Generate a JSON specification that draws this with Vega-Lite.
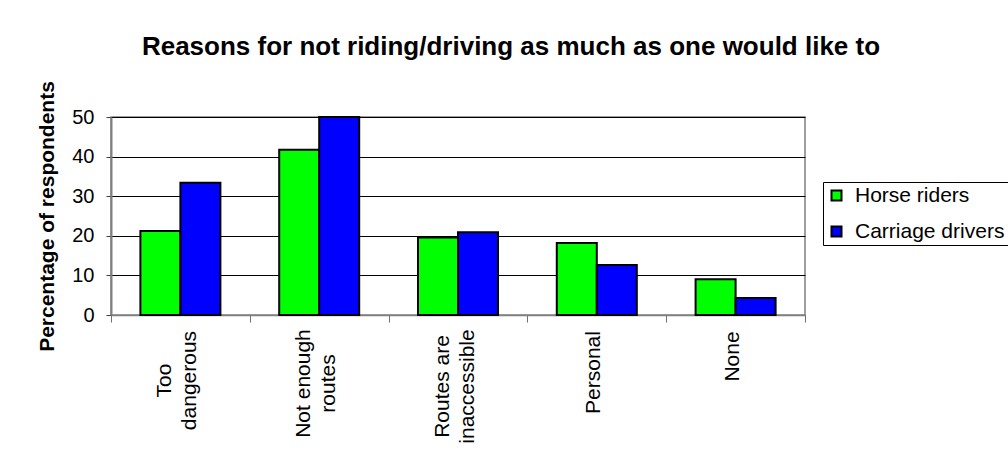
{
  "$schema": "https://vega.github.io/schema/vega-lite/v6.json",
  "width": 694,
  "height": 198,
  "autosize": {"type": "none"},
  "padding": {"left": 111, "top": 117, "right": 203, "bottom": 147},
  "background": "white",
  "title": {
    "text": "Reasons for not riding/driving as much as one would like to",
    "font": "Liberation Sans",
    "fontSize": 26,
    "fontWeight": "bold",
    "color": "black",
    "anchor": "middle",
    "dx": 53,
    "offset": 21
  },
  "data": {
    "values": [
      {"reason": "Too dangerous", "group": "Horse riders", "value": 21.2},
      {"reason": "Too dangerous", "group": "Carriage drivers", "value": 33.4},
      {"reason": "Not enough routes", "group": "Horse riders", "value": 41.7},
      {"reason": "Not enough routes", "group": "Carriage drivers", "value": 50},
      {"reason": "Routes are inaccessible", "group": "Horse riders", "value": 19.6},
      {"reason": "Routes are inaccessible", "group": "Carriage drivers", "value": 20.9},
      {"reason": "Personal", "group": "Horse riders", "value": 18.2},
      {"reason": "Personal", "group": "Carriage drivers", "value": 12.6},
      {"reason": "None", "group": "Horse riders", "value": 9.0},
      {"reason": "None", "group": "Carriage drivers", "value": 4.3}
    ]
  },
  "mark": {"type": "bar", "stroke": "black", "strokeWidth": 2},
  "encoding": {
    "x": {
      "field": "reason",
      "type": "nominal",
      "sort": ["Too dangerous", "Not enough routes", "Routes are inaccessible", "Personal", "None"],
      "scale": {"paddingInner": 0, "paddingOuter": 0},
      "axis": {
        "title": null,
        "labelAngle": -90,
        "labelAlign": "center",
        "labelBaseline": "middle",
        "labelExpr": "datum.label == 'Too dangerous' ? ['Too', 'dangerous'] : datum.label == 'Not enough routes' ? ['Not enough', 'routes'] : datum.label == 'Routes are inaccessible' ? ['Routes are', 'inaccessible'] : datum.label",
        "labelOffset": {
          "condition": {"test": "datum.value == 'Personal' || datum.value == 'None'", "value": -3},
          "value": -15.5
        },
        "labelPadding": {
          "condition": [
            {"test": "datum.value == 'Too dangerous'", "value": 58},
            {"test": "datum.value == 'Not enough routes'", "value": 61},
            {"test": "datum.value == 'Routes are inaccessible'", "value": 64},
            {"test": "datum.value == 'Personal'", "value": 50}
          ],
          "value": 34
        },
        "labelFont": "Liberation Sans",
        "labelFontSize": 21,
        "labelColor": "black",
        "labelLineHeight": 25,
        "labelOverlap": false,
        "labelBound": false,
        "tickBand": "extent",
        "tickSize": 7,
        "tickColor": "#707070",
        "domainColor": "#808080",
        "domainWidth": 1.5,
        "grid": false
      }
    },
    "xOffset": {
      "field": "group",
      "sort": ["Horse riders", "Carriage drivers"],
      "scale": {"paddingOuter": 0.735, "paddingInner": 0}
    },
    "y": {
      "field": "value",
      "type": "quantitative",
      "scale": {"domain": [0, 50], "nice": false},
      "axis": {
        "title": "Percentage of respondents",
        "titleFont": "Liberation Sans",
        "titleFontSize": 21,
        "titleFontWeight": "bold",
        "titleColor": "black",
        "titlePadding": 14,
        "values": [0, 10, 20, 30, 40, 50],
        "labelFont": "Liberation Sans",
        "labelFontSize": 20,
        "labelColor": "black",
        "labelPadding": 12,
        "tickSize": 5,
        "tickColor": "#404040",
        "domainColor": "#808080",
        "domainWidth": 2,
        "grid": true,
        "gridColor": "black",
        "gridWidth": 1
      }
    },
    "color": {
      "field": "group",
      "type": "nominal",
      "scale": {"domain": ["Horse riders", "Carriage drivers"], "range": ["#00FF00", "#0000FF"]},
      "legend": {
        "title": null,
        "orient": "none",
        "legendX": 712,
        "legendY": 65,
        "strokeColor": "black",
        "fillColor": "white",
        "padding": 3,
        "symbolType": "square",
        "symbolSize": 100,
        "symbolStrokeColor": "black",
        "symbolStrokeWidth": 2,
        "symbolOpacity": 1,
        "labelFont": "Liberation Sans",
        "labelFontSize": 21,
        "labelColor": "black",
        "labelOffset": 8,
        "rowPadding": 14
      }
    }
  },
  "config": {"view": {"stroke": "#808080", "strokeWidth": 1.5}}
}
